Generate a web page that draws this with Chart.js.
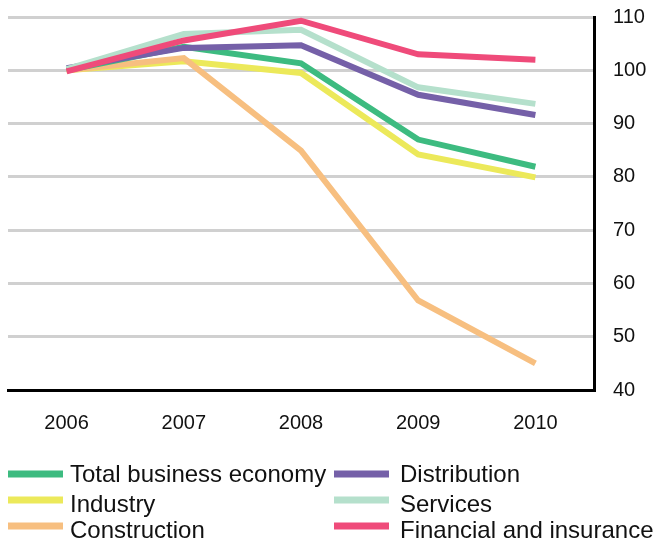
<!DOCTYPE html>
<html>
<head>
<meta charset="utf-8">
<script src="https://cdn.jsdelivr.net/npm/chart.js@4/dist/chart.umd.min.js"></script>
<style>
  html, body { margin: 0; padding: 0; background: #fff; }
  canvas { display: block; }
</style>
</head>
<body>
<canvas id="c" width="654" height="542"></canvas>
<script>
// Index values, 2006 = 100
const years = ['2006', '2007', '2008', '2009', '2010'];
const totalBusiness = [100, 104.4, 101.3, 87, 81.9];
const industry = [100, 101.7, 99.5, 84.2, 79.9];
const construction = [100, 102.3, 84.9, 56.8, 45];
const distribution = [100.4, 104.2, 104.7, 95.4, 91.6];
const services = [100.2, 106.8, 107.6, 96.8, 93.7];
const financial = [99.8, 105.6, 109.3, 103, 102];
const yTicks = [40, 50, 60, 70, 80, 90, 100, 110];

const seriesNames = ['Total business economy', 'Industry', 'Construction', 'Distribution', 'Services', 'Financial and insurance'];
const seriesData = [totalBusiness, industry, construction, distribution, services, financial];
const seriesColors = ['#3dbb80', '#ece95a', '#f7bf80', '#7560a8', '#b5e0cc', '#ef4b7a'];
const drawOrder = [3, 5, 4, 2, 1, 0];

const FONT = '"Liberation Sans", Arial, sans-serif';

// Two-column legend drawn under the plot area
const bottomLegend = {
  id: 'bottomLegend',
  afterDraw(chart) {
    const ctx = chart.ctx;
    const swatchX = [8, 334];
    const textX = [70, 400];
    const swatchY = [474, 500, 526];
    const baseY = [482, 512, 538];
    ctx.save();
    ctx.font = '24px ' + FONT;
    ctx.textBaseline = 'alphabetic';
    ctx.textAlign = 'left';
    chart.data.datasets.forEach((ds, i) => {
      const col = Math.floor(i / 3), row = i % 3;
      ctx.fillStyle = ds.borderColor;
      ctx.fillRect(swatchX[col], swatchY[row] - 3.5, 55, 7);
      ctx.fillStyle = '#111';
      ctx.fillText(ds.label, textX[col], baseY[row]);
    });
    ctx.restore();
  }
};

new Chart(document.getElementById('c'), {
  type: 'line',
  data: {
    labels: years,
    datasets: seriesNames.map((name, i) => ({
      label: name,
      data: seriesData[i],
      borderColor: seriesColors[i],
      backgroundColor: seriesColors[i],
      borderWidth: 6,
      pointRadius: 0,
      tension: 0,
      fill: false,
      order: drawOrder[i]
    }))
  },
  options: {
    responsive: false,
    animation: false,
    layout: { padding: { left: 8, top: 17, right: 0, bottom: 0 } },
    plugins: { legend: { display: false }, tooltip: { enabled: false } },
    scales: {
      x: {
        offset: true,
        grid: { display: false, drawTicks: false },
        border: { display: true, color: '#000', width: 3 },
        ticks: { color: '#111', font: { family: FONT, size: 20 }, padding: 21 },
        afterFit: s => { s.height = 152; s.paddingLeft = 0; s.paddingRight = 0; }
      },
      y: {
        position: 'right',
        min: 40,
        max: 110,
        afterBuildTicks: s => { s.ticks = yTicks.map(v => ({ value: v })); },
        grid: { color: '#d0d0d0', lineWidth: 3, drawTicks: false },
        border: { display: true, color: '#000', width: 3 },
        ticks: { color: '#111', font: { family: FONT, size: 20 }, padding: 19 },
        afterFit: s => { s.width = 60; s.paddingTop = 0; s.paddingBottom = 0; }
      }
    }
  },
  plugins: [bottomLegend]
});
</script>
</body>
</html>
